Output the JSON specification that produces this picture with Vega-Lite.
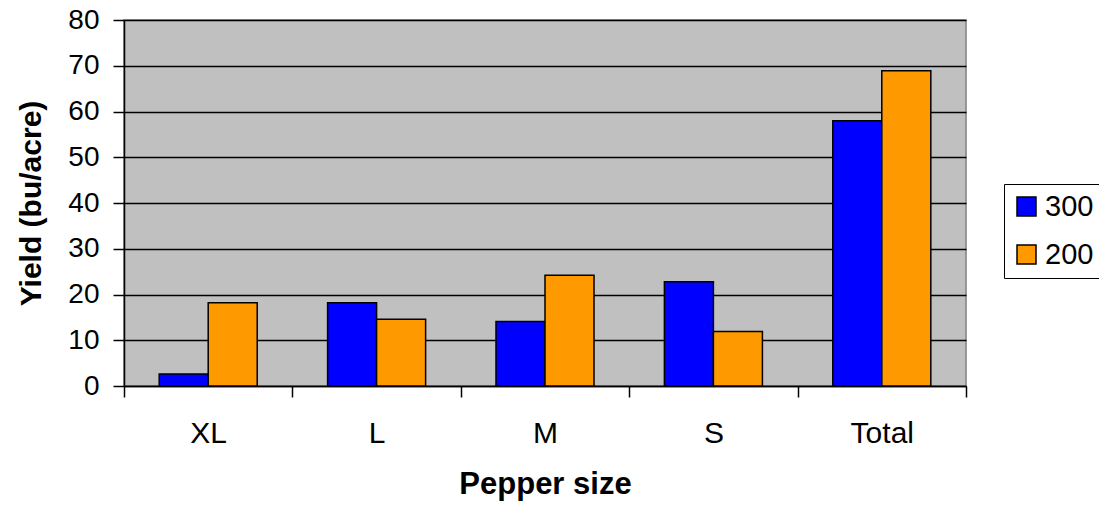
{
  "$schema": "https://vega.github.io/schema/vega-lite/v6.json",
  "width": 842,
  "height": 366,
  "autosize": {"type": "none"},
  "padding": {"left": 124, "top": 20, "right": 133, "bottom": 120},
  "background": "white",
  "config": {
    "view": {"fill": "#C0C0C0", "stroke": "#808080", "strokeWidth": 1.5},
    "font": "Liberation Sans",
    "axis": {"labelColor": "black", "titleColor": "black", "domainColor": "black", "tickColor": "black", "domainWidth": 1.5, "tickWidth": 1.5}
  },
  "data": {
    "values": [
      {"size": "XL", "series": "300", "yield": 2.6},
      {"size": "XL", "series": "200", "yield": 18.2},
      {"size": "L", "series": "300", "yield": 18.2},
      {"size": "L", "series": "200", "yield": 14.6},
      {"size": "M", "series": "300", "yield": 14.1},
      {"size": "M", "series": "200", "yield": 24.2},
      {"size": "S", "series": "300", "yield": 22.8},
      {"size": "S", "series": "200", "yield": 11.9},
      {"size": "Total", "series": "300", "yield": 58.0},
      {"size": "Total", "series": "200", "yield": 68.9}
    ]
  },
  "mark": {"type": "bar", "stroke": "black", "strokeWidth": 1.5},
  "encoding": {
    "x": {
      "field": "size",
      "type": "nominal",
      "sort": ["XL", "L", "M", "S", "Total"],
      "scale": {"paddingInner": 0, "paddingOuter": 0},
      "axis": {
        "title": "Pepper size",
        "titleFontSize": 31,
        "titleFontWeight": "bold",
        "titlePadding": 21,
        "labelFontSize": 30,
        "labelAngle": 0,
        "labelPadding": 21,
        "tickSize": 11,
        "tickBand": "extent",
        "grid": false
      }
    },
    "xOffset": {
      "field": "series",
      "sort": ["300", "200"],
      "scale": {"paddingInner": 0, "paddingOuter": 0.718}
    },
    "y": {
      "field": "yield",
      "type": "quantitative",
      "scale": {"domain": [0, 80], "nice": false},
      "axis": {
        "title": "Yield (bu/acre)",
        "values": [0, 10, 20, 30, 40, 50, 60, 70, 80],
        "grid": true,
        "gridColor": "black",
        "gridWidth": 1.3,
        "tickSize": 11,
        "labelFontSize": 28,
        "labelPadding": 14,
        "titleFontSize": 30,
        "titleFontWeight": "bold",
        "titlePadding": 21
      }
    },
    "color": {
      "field": "series",
      "type": "nominal",
      "sort": ["300", "200"],
      "scale": {"domain": ["300", "200"], "range": ["#0000FF", "#FF9900"]},
      "legend": {
        "title": null,
        "orient": "none",
        "legendX": 880,
        "legendY": 164,
        "strokeColor": "black",
        "fillColor": "white",
        "padding": 8,
        "labelFontSize": 29,
        "labelColor": "black",
        "symbolType": "square",
        "symbolSize": 361,
        "symbolStrokeColor": "black",
        "symbolStrokeWidth": 1.5,
        "symbolOpacity": 1,
        "rowPadding": 18,
        "labelOffset": 4
      }
    }
  }
}
